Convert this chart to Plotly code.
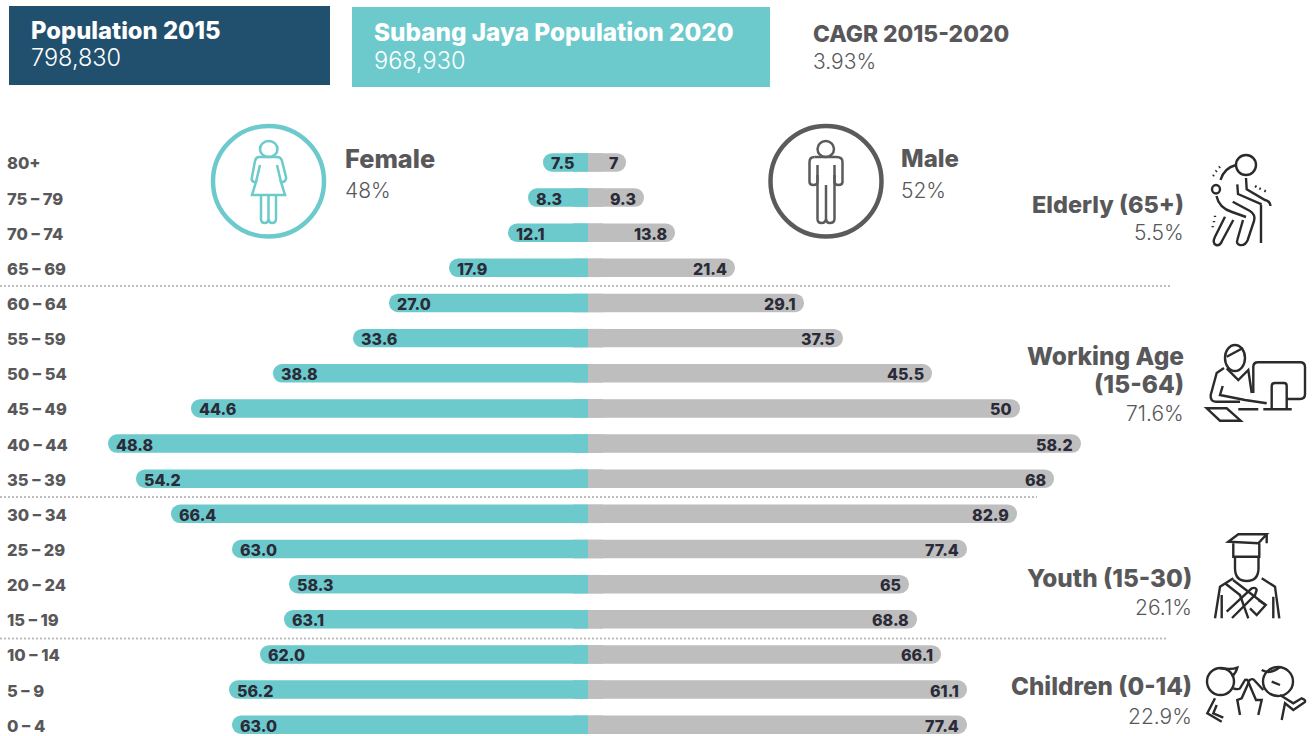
import re
import plotly.graph_objects as go

# ---------- data ----------
age_groups = ["80+", "75 – 79", "70 – 74", "65 – 69", "60 – 64", "55 – 59", "50 – 54", "45 – 49",
              "40 – 44", "35 – 39", "30 – 34", "25 – 29", "20 – 24", "15 – 19", "10 – 14", "5 – 9", "0 – 4"]
female_labels = ["7.5", "8.3", "12.1", "17.9", "27.0", "33.6", "38.8", "44.6", "48.8", "54.2",
                 "66.4", "63.0", "58.3", "63.1", "62.0", "56.2", "63.0"]
male_labels = ["7", "9.3", "13.8", "21.4", "29.1", "37.5", "45.5", "50", "58.2", "68",
               "82.9", "77.4", "65", "68.8", "66.1", "61.1", "77.4"]
# the source's bars are not proportional to their labels: bar lengths
female_bars = [9, 12, 16, 27.8, 39.8, 47, 63, 79.4, 96, 90.4, 83.4, 71.2, 59.8, 60.8, 65.6, 71.8, 71.2]
male_bars = [7.6, 11.2, 17.4, 29.4, 43.2, 51, 68.8, 86.4, 98.6, 93.2, 85.8, 75.8, 64.2, 65.8, 70.6, 75.8, 75.8]

TEAL = "#6DCACC"
GREY = "#BEBEBE"
NAVY = "#21506F"
TEXT = "#58585A"
DARK = "#2A2A38"
ICON = "#2B2B2B"
BOLD = "Inter"
W, H = 1313, 736

def fnt(size, color=TEXT, weight=800):
    return dict(family=BOLD, size=size, color=color, weight=weight)

fig = go.Figure()
n = len(age_groups)
noline = dict(width=0)
fig.add_bar(y=age_groups, x=[-v for v in female_bars], orientation="h", marker=dict(color=TEAL, cornerradius=9, line=noline), width=0.526, name="Female", hoverinfo="skip")
fig.add_bar(y=age_groups, x=male_bars, orientation="h", marker=dict(color=GREY, cornerradius=9, line=noline), width=0.526, name="Male", hoverinfo="skip")
fig.add_bar(y=age_groups, x=[-3] * n, orientation="h", marker=dict(color=TEAL, line=noline), width=0.526, hoverinfo="skip")
fig.add_bar(y=age_groups, x=[3] * n, orientation="h", marker=dict(color=GREY, line=noline), width=0.526, hoverinfo="skip")

ann = []
for g, fb, mb, fl, ml in zip(age_groups, female_bars, male_bars, female_labels, male_labels):
    ann.append(dict(x=-fb, y=g, xref="x", yref="y", text=fl, xanchor="left", xshift=6, yshift=-1, showarrow=False, font=fnt(16, DARK)))
    ann.append(dict(x=mb, y=g, xref="x", yref="y", text=ml, xanchor="right", xshift=-6, yshift=-1, showarrow=False, font=fnt(16, DARK)))
    ann.append(dict(x=5 / W, y=g, xref="paper", yref="y", text=g, xanchor="left", yshift=-1, showarrow=False, font=fnt(16.5)))

def txt(px, py, s, size, color=TEXT, weight=800, anchor="left"):
    ann.append(dict(x=px / W, y=1 - py / H, xref="paper", yref="paper", text=s, xanchor=anchor, yanchor="middle",
                    showarrow=False, font=fnt(size, color, weight)))

txt(28.5, 30, "Population 2015", 23.8, "#FFFFFF")
txt(28.5, 58, "798,830", 23.5, "#FFFFFF", 300)
txt(372, 32, "Subang Jaya Population 2020", 24.3, "#FFFFFF")
txt(372, 60, "968,930", 23.5, "#FFFFFF", 300)
txt(811, 33, "CAGR 2015-2020", 22.8)
txt(811, 62, "3.93%", 21, TEXT, 300)
txt(343, 158, "Female", 25.3)
txt(343, 190, "48%", 21, TEXT, 300)
txt(899, 158, "Male", 24)
txt(899, 190, "52%", 21, TEXT, 300)
txt(1186, 204, "Elderly (65+)", 23.5, anchor="right")
txt(1186, 232, "5.5%", 21, TEXT, 300, "right")
txt(1186, 356, "Working Age", 24.5, anchor="right")
txt(1186, 384, "(15-64)", 24.5, anchor="right")
txt(1186, 413, "71.6%", 21, TEXT, 300, "right")
txt(1194, 578, "Youth (15-30)", 24.3, anchor="right")
txt(1194, 607, "26.1%", 21, TEXT, 300, "right")
txt(1194, 686, "Children (0-14)", 24.2, anchor="right")
txt(1194, 716, "22.9%", 21, TEXT, 300, "right")

# ---------- decoration, given in page pixels ----------
def P(d):
    parts = re.findall(r"[MLQCZ]|-?\d+\.?\d*", d)
    out, is_x = [], True
    for p in parts:
        if p in "MLQCZ":
            out.append(p)
            is_x = True
        else:
            v = float(p)
            out.append(f"{v / W:.6f}" if is_x else f"{1 - v / H:.6f}")
            is_x = not is_x
    return " ".join(out)

shapes = []
def rect(x0, y0, x1, y1, color):
    shapes.append(dict(type="rect", xref="paper", yref="paper", x0=x0 / W, x1=x1 / W, y0=1 - y0 / H, y1=1 - y1 / H,
                       fillcolor=color, line_width=0, layer="below"))
def circ(x0, y0, x1, y1, color, w):
    shapes.append(dict(type="circle", xref="paper", yref="paper", x0=x0 / W, x1=x1 / W, y0=1 - y0 / H, y1=1 - y1 / H,
                       line=dict(color=color, width=w)))
def path(d, color=ICON, w=2.4):
    shapes.append(dict(type="path", xref="paper", yref="paper", path=P(d), line=dict(color=color, width=w)))
def sep(y, x1):
    shapes.append(dict(type="line", xref="paper", yref="paper", x0=0, x1=x1 / W, y0=1 - y / H, y1=1 - y / H,
                       line=dict(color="#BDBDBD", width=2, dash="2px,2px"), layer="below"))

rect(9, 6, 330, 85, NAVY)
rect(352, 7, 770, 87, TEAL)
sep(286, 1172)
sep(497, 1037)
sep(638.5, 1168)

# female
circ(213, 126, 324, 236.5, TEAL, 4.5)
circ(260, 141, 277.5, 157, TEAL, 2.5)
path("M259 157 L277 157 Q281 157 282 161 L286 177 Q286.5 181 283 182 L281 182 L285 195 L252 195 L256 182 L254 182 Q251 181 252 177 L255 161 Q256 157 259 157 Z", TEAL, 2.5)
path("M260 165 L256 182 M277 165 L281 182", TEAL, 2.5)
path("M261 195 L261 219 Q261 223 265 223 Q268 223 268.5 219 L268.5 195 M268.5 219 Q269 223 272 223 Q276 223 276 219 L276 195", TEAL, 2.5)
# male
circ(770.5, 126, 881.5, 236.5, "#5B5B5B", 4.5)
circ(817.5, 141, 834, 157, "#5B5B5B", 2.5)
path("M814.5 157 L836.5 157 Q842.5 157 842.5 162 L842.5 182 Q842.5 185 838.5 185 Q834.5 185 834.5 182 L834.5 165", "#5B5B5B", 2.5)
path("M817.5 165 L817.5 182 Q817.5 185 813.5 185 Q809.5 185 809.5 182 L809.5 162 Q809.5 157 814.5 157", "#5B5B5B", 2.5)
path("M817.5 175 L817.5 219 Q817.5 223 821.5 223 Q825.5 223 826 219 L826 185 M826 219 Q826.5 223 829.5 223 Q834.5 223 834.5 219 L834.5 175", "#5B5B5B", 2.5)
# elderly
circ(1236, 155, 1256, 175, ICON, 2.4)
circ(1212, 185, 1220, 193.5, ICON, 2.4)
path("M1220.5 180 Q1224 168 1236 165")
path("M1216.5 196 Q1219 208 1232 212 L1246 217")
path("M1232.7 201.7 L1250 211 Q1256 215 1254 221 L1247.7 240 Q1245 246 1240 245 Q1236 244 1237.3 240 L1243 220")
path("M1225 216.7 L1215 236.7 Q1212 243 1216 245 Q1220 246 1222 241 L1233.3 220")
path("M1237.3 184.3 L1238 194 L1261.7 204.3 M1246 178 L1246.7 189.3 L1265 200 Q1270 201 1270.5 206 M1261 205 L1261 243")
path("M1213 176 L1214 175 M1215.7 171.7 L1216.7 170.7 M1219 167.7 L1220 166.7 M1255 186 L1256.5 187 M1259.3 188.3 L1260.8 189 M1264.3 190.7 L1265.8 191.4 M1215 215.7 L1215 217 M1214 221 L1214 222.3 M1212.7 226 L1212.7 227.3")
# working
circ(1225, 345, 1245, 371, ICON, 2.4)
path("M1226.7 356.7 L1243 348")
path("M1224 368 L1216.7 373 L1210.7 395 Q1210 401.7 1216 401.7 L1240 401.7")
path("M1226.7 368.3 L1238.3 380 L1248.3 370 L1251.7 393")
path("M1222.7 386 L1220 395 L1245 400 L1266.7 403.3")
path("M1238.3 409.3 L1258.3 409.3 M1263.3 409.3 L1291.7 409.3")
path("M1253.3 393 L1253.3 367 Q1253.3 362.3 1258 362.3 L1300 362.3 Q1305 362.3 1305 367 L1305 394 Q1305 399 1300 399 L1287 399")
path("M1271.7 409 L1271.7 386 Q1271.7 383 1275 383 L1284 383 Q1286.7 383 1286.7 386 L1286.7 409")
path("M1206.7 408.3 L1226.7 408.3 L1240.7 420.7 L1220 420.7 Z")
# graduate
path("M1228.3 541.7 L1238.3 534.3 L1266.7 534.3 L1258.3 543.3 Z M1266.7 534.3 L1266.7 543.3")
path("M1233.3 543.3 L1233.3 556.7 L1259.3 556.7 L1259.3 543.3")
path("M1235 556 L1235 568 Q1235 581 1246.7 581 Q1258.5 581 1258.5 568 L1258.5 556")
path("M1233.3 578.3 L1220 586.7 L1215 618.3 M1261.7 578.3 L1275 586.7 L1279.3 618.3 M1221.7 595 L1221.7 618.3 M1273.3 596.7 L1273.3 618.3")
path("M1225 583.3 L1240 595 L1248.3 618.3 M1233 580 L1265.7 605")
path("M1226.7 611.7 L1251.7 588.3 Q1256 587 1256.7 590 L1255 595 L1232 618")
path("M1250 608.3 L1256.7 615 L1265.7 605 L1258.3 600")
# children
circ(1207, 668, 1234, 695, ICON, 2.4)
path("M1220 668.3 Q1232 670 1237.3 667.7 Q1236 673 1231.7 676.7")
path("M1233.3 688.3 Q1238 690 1240 688.3 L1245 680 Q1249 679 1248.3 683.3 L1241.7 698.3 L1237.3 700 L1240 715")
path("M1215 698.3 L1207.3 713.3 L1221.7 721.7 M1216.7 705 L1213.3 713.3 L1223.3 717.7")
circ(1263, 667, 1293, 696, ICON, 2.4)
path("M1248.3 681.7 Q1252 677 1255 681 L1263.3 690 M1248.3 682 L1256 700 L1261.7 700 L1258.3 715")
path("M1261.7 670 Q1270 675 1280 667 M1271.7 681.7 L1280 685")
path("M1280 695 L1293.3 703.3 L1301.7 698.3 Q1306 700 1305 702 L1293.3 710 L1285 703.3 L1281.7 720")

fig.update_layout(
    width=W, height=H, autosize=False, margin=dict(l=0, r=0, t=0, b=0),
    barmode="overlay", showlegend=False, paper_bgcolor="white", plot_bgcolor="rgba(0,0,0,0)",
    xaxis=dict(visible=False, range=[-117.6, 145], fixedrange=True),
    yaxis=dict(visible=False, type="category", categoryorder="array", categoryarray=age_groups,
               range=[16.32, -4.62], fixedrange=True),
    annotations=ann, shapes=shapes,
)
fig.write_html("out.html", config=dict(displayModeBar=False),
               post_script="document.body.style.margin='0';")
